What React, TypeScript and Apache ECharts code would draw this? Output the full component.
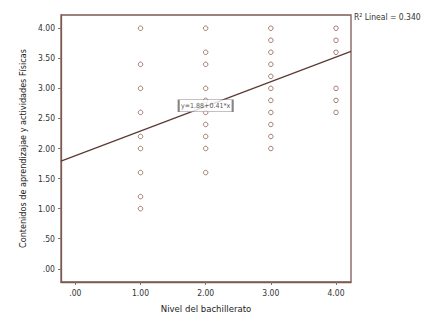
import React, { useEffect, useRef } from "react";
import * as echarts from "echarts";

const xTicks = [0, 1, 2, 3, 4];
const yTicks = [0, 0.5, 1, 1.5, 2, 2.5, 3, 3.5, 4];
const valuesAt1 = [4, 3.4, 3, 2.6, 2.2, 2, 1.6, 1.2, 1];
const valuesAt2 = [4, 3.6, 3.4, 3, 2.8, 2.6, 2.4, 2.2, 2, 1.6];
const valuesAt3 = [4, 3.8, 3.6, 3.4, 3.2, 3, 2.8, 2.6, 2.4, 2.2, 2];
const valuesAt4 = [4, 3.8, 3.6, 3, 2.8, 2.6];
const intercept = 1.88;
const slope = 0.41;
const rSquared = "0.340";
const xMin = -0.22;
const xMax = 4.23;
const yMin = -0.22;
const yMax = 4.22;

const FONT = "'Liberation Sans Narrow', 'DejaVu Sans Condensed', 'Open Sans', sans-serif";

function fmt(v: number) {
  const s = v.toFixed(2);
  return s.startsWith("0") ? s.slice(1) : s;
}

export default function App() {
  const ref = useRef<HTMLDivElement>(null);
  useEffect(() => {
    if (!ref.current) return;
    const chart = echarts.init(ref.current, null, { renderer: "svg" });
    const points: number[][] = [];
    [valuesAt1, valuesAt2, valuesAt3, valuesAt4].forEach((arr, i) =>
      arr.forEach((v) => points.push([i + 1, v]))
    );
    const frame = "#7d5a52";
    chart.setOption({
      animation: false,
      backgroundColor: "#fff",
      grid: {
        left: 61,
        top: 15,
        right: 82,
        bottom: 38,
        show: true,
        borderColor: frame,
        borderWidth: 1.3,
        backgroundColor: "#fff",
      },
      xAxis: {
        type: "value",
        min: xMin,
        max: xMax,
        name: "Nivel del bachillerato",
        nameLocation: "middle",
        nameGap: 21,
        nameTextStyle: { fontFamily: FONT, fontSize: 9.5, fontWeight: "normal", color: "#222" },
        splitLine: { show: false },
        axisLine: { show: true, onZero: false, lineStyle: { color: frame, width: 1.3 } },
        axisTick: { show: true, length: 3, lineStyle: { color: "#777" }, customValues: xTicks },
        axisLabel: {
          customValues: xTicks,
          formatter: (v: number) => fmt(v),
          fontFamily: FONT,
          fontSize: 8.5,
          color: "#333",
          margin: 6,
        },
      },
      yAxis: {
        type: "value",
        min: yMin,
        max: yMax,
        name: "Contenidos de aprendizajae y actividades Físicas",
        nameLocation: "middle",
        nameGap: 34,
        nameTextStyle: { fontFamily: FONT, fontSize: 9, fontWeight: "normal", color: "#222" },
        splitLine: { show: false },
        axisLine: { show: true, onZero: false, lineStyle: { color: frame, width: 1.3 } },
        axisTick: { show: true, length: 3, lineStyle: { color: "#777" }, customValues: yTicks },
        axisLabel: {
          customValues: yTicks,
          formatter: (v: number) => fmt(v),
          fontFamily: FONT,
          fontSize: 8.5,
          color: "#333",
          margin: 6,
        },
      },
      series: [
        {
          type: "line",
          data: [
            [xMin, intercept + slope * xMin],
            [xMax, intercept + slope * xMax],
          ],
          symbol: "none",
          lineStyle: { color: "#5b3a33", width: 1.2 },
          z: 1,
        },
        {
          type: "scatter",
          data: points,
          symbol: "circle",
          symbolSize: 4.5,
          itemStyle: { color: "#fff", borderColor: "#8a5a4a", borderWidth: 1 },
          z: 3,
        },
        {
          type: "scatter",
          data: [[2, 2.71]],
          symbol: "rect",
          symbolSize: [54, 12],
          itemStyle: { color: "#fff", borderColor: "#666", borderWidth: 1 },
          z: 10,
          label: {
            show: true,
            position: "inside",
            formatter: `y=${intercept.toFixed(2)}+${slope.toFixed(2)}*x`,
            fontFamily: FONT,
            fontSize: 7,
            color: "#222",
          },
        },
      ],
      graphic: [
        {
          type: "text",
          left: 354,
          top: 12,
          style: {
            text: `R² Lineal = ${rSquared}`,
            fontFamily: FONT,
            fontSize: 8.5,
            fill: "#333",
          },
        },
      ],
    });
    return () => chart.dispose();
  }, []);
  return <div ref={ref} style={{ width: 433, height: 320, position: "absolute", left: 0, top: 0 }} />;
}
